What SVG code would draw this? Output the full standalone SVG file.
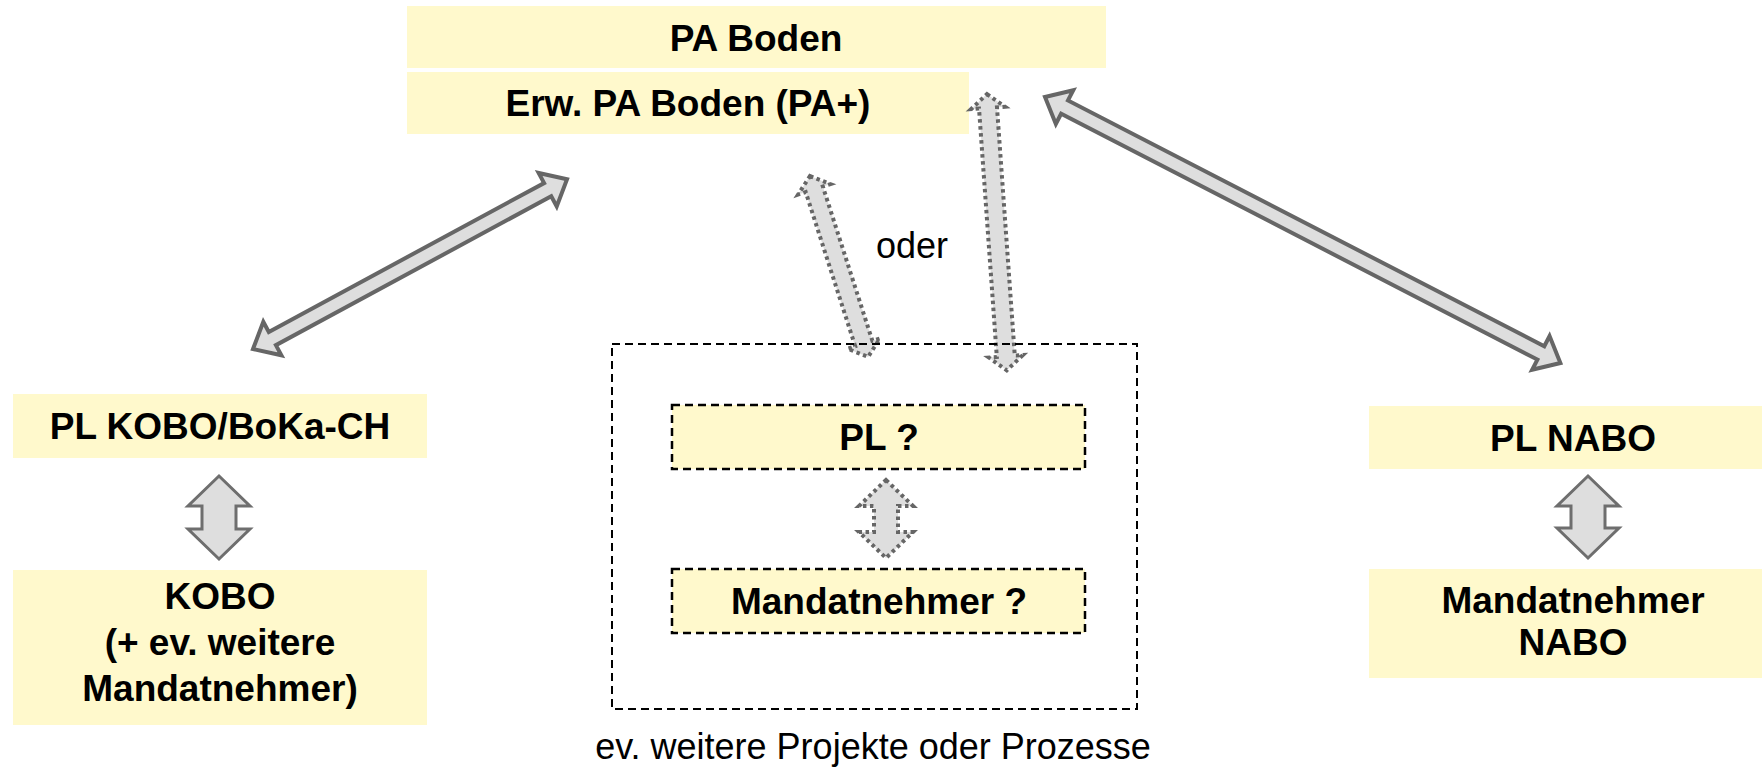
<svg xmlns="http://www.w3.org/2000/svg" width="1762" height="771" viewBox="0 0 1762 771">
<style>
.box{fill:#FFF9CC;stroke:none}
.dbox{fill:#FFF9CC;stroke:#000;stroke-width:2.5;stroke-dasharray:8 5}
.frame{fill:none;stroke:#000;stroke-width:2;stroke-dasharray:8 5}
.t{font-family:"Liberation Sans",Arial,sans-serif;font-weight:bold;font-size:37px;fill:#000;text-anchor:middle}
.r{font-family:"Liberation Sans",Arial,sans-serif;font-size:36px;fill:#000;text-anchor:middle}
.arr{fill:#DEDEDE;stroke:#666;stroke-width:4;stroke-linejoin:miter}
.varr{fill:#DEDEDE;stroke:#6E6E6E;stroke-width:3}
.dot{fill:#DEDEDE;stroke:#666;stroke-width:4;stroke-dasharray:3.5 3.5}
</style>
<rect width="1762" height="771" fill="#fff"/>
<g id="pa-boden"><rect class="box" x="407" y="6" width="699" height="62"/><text class="t" x="756" y="51">PA Boden</text></g>
<g id="erw-pa-boden"><rect class="box" x="407" y="72" width="562" height="62"/><text class="t" x="688" y="116">Erw. PA Boden (PA+)</text></g>
<g id="pl-kobo"><rect class="box" x="13" y="394" width="414" height="64"/><text class="t" x="220" y="439">PL KOBO/BoKa-CH</text></g>
<g id="kobo"><rect class="box" x="13" y="570" width="414" height="155"/><text class="t" x="220" y="609">KOBO</text><text class="t" x="220" y="655">(+ ev. weitere</text><text class="t" x="220" y="701">Mandatnehmer)</text></g>
<g id="pl-nabo"><rect class="box" x="1369" y="406" width="393" height="63"/><text class="t" x="1573" y="451">PL NABO</text></g>
<g id="mandatnehmer-nabo"><rect class="box" x="1369" y="569" width="393" height="109"/><text class="t" x="1573" y="613">Mandatnehmer</text><text class="t" x="1573" y="655">NABO</text></g>
<g id="connectors">
<polygon class="arr" transform="translate(253,349) rotate(-28.4)" points="0,0 22,-19 22,-7.5 335,-7.5 335,-19 357,0 335,19 335,7.5 22,7.5 22,19"/>
<polygon class="arr" transform="translate(1045,97) rotate(27.3)" points="0,0 22,-19 22,-7.5 558,-7.5 558,-19 580,0 558,19 558,7.5 22,7.5 22,19"/>
<polygon class="dot" transform="translate(810,176) rotate(72.2)" points="0,0 14,-17 14,-9 176,-9 176,-17 190,0 176,17 176,9 14,9 14,17"/>
<polygon class="dot" transform="translate(987,94) rotate(85.9)" points="0,0 14,-17 14,-9 263,-9 263,-17 277,0 263,17 263,9 14,9 14,17"/>
<polygon class="dot" transform="translate(886,480) rotate(90)" points="0,0 26,-27 26,-12 52,-12 52,-27 78,0 52,27 52,12 26,12 26,27"/>
<polygon class="varr" transform="translate(219,476) rotate(90)" points="0,0 30,-31 30,-17 53,-17 53,-31 83,0 53,31 53,17 30,17 30,31"/>
<polygon class="varr" transform="translate(1588,476) rotate(90)" points="0,0 30,-31 30,-17 52,-17 52,-31 82,0 52,31 52,17 30,17 30,31"/>
</g>
<g id="frame-group"><rect class="frame" x="612" y="344" width="525" height="365"/></g>
<g id="pl-q"><rect class="dbox" x="672" y="405" width="413" height="64"/><text class="t" x="879" y="450">PL ?</text></g>
<g id="mandatnehmer-q"><rect class="dbox" x="672" y="569" width="413" height="64"/><text class="t" x="879" y="614">Mandatnehmer ?</text></g>
<text class="r" x="912" y="258">oder</text>
<text class="r" x="873" y="759">ev. weitere Projekte oder Prozesse</text>
</svg>
